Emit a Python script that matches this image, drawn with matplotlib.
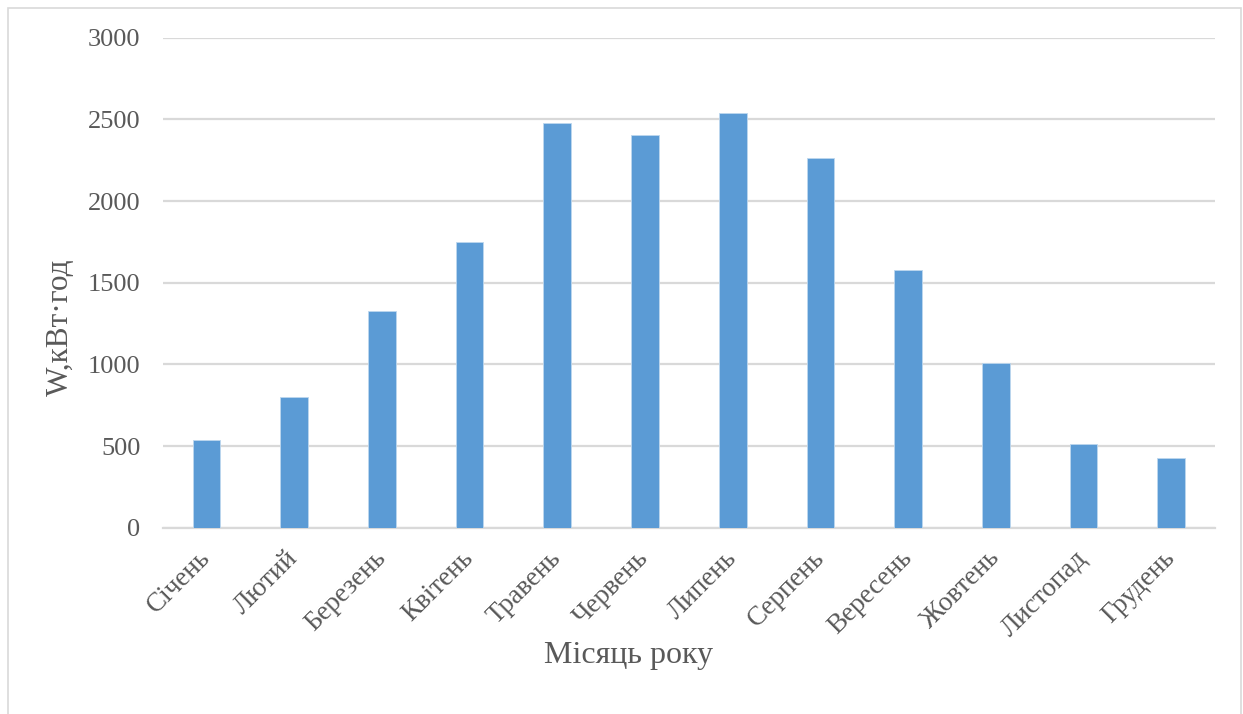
# Monthly energy output bar chart (Excel style)

import matplotlib
matplotlib.use('Agg')
import matplotlib.pyplot as plt
from matplotlib.patches import Rectangle

# Data
months = ['Січень', 'Лютий', 'Березень', 'Квітень', 'Травень', 'Червень',
          'Липень', 'Серпень', 'Вересень', 'Жовтень', 'Листопад', 'Грудень']
energy = [539, 802, 1327, 1747, 2476, 2404, 2541, 2263, 1578, 1008, 514, 425]
y_ticks = [0, 500, 1000, 1500, 2000, 2500, 3000]

text_color = '#595959'
grid_color = '#d9d9d9'
bar_color = '#5b9bd5'

plt.rcParams['font.family'] = ['Liberation Serif', 'DejaVu Serif']

fig = plt.figure(figsize=(12.43, 7.14), dpi=100)
ax = fig.add_axes([0.1309, 0.2609, 0.9775 - 0.1309, 0.9472 - 0.2609])

# outer frame of the chart area
fig.patches.append(Rectangle((8 / 1243, -0.01), 1233 / 1243, 1 - 8 / 714 + 0.01,
                             transform=fig.transFigure, fill=False,
                             edgecolor=grid_color, linewidth=1.2))

x = range(len(months))
ax.bar(x, energy, width=0.316, color=bar_color, edgecolor='#bdd7ee', linewidth=0.6, zorder=3)

ax.set_xlim(-0.5, len(months) - 0.5)
ax.set_ylim(0, 3000)
ax.set_yticks(y_ticks)
ax.set_yticklabels([str(t) for t in y_ticks])
ax.yaxis.grid(True, color=grid_color, linewidth=1.6, zorder=0)
ax.set_axisbelow(True)

for s in ['top', 'right', 'left']:
    ax.spines[s].set_visible(False)
ax.spines['bottom'].set_color(grid_color)
ax.spines['bottom'].set_linewidth(1.6)
ax.spines['bottom'].set_zorder(1)

ax.tick_params(axis='both', length=0, colors=text_color, labelsize=19)
ax.tick_params(axis='y', pad=16)
ax.set_xticks(list(x))
ax.set_xticklabels(months, rotation=45, ha='right', va='center',
                   rotation_mode='anchor', color=text_color, fontsize=19.5)
ax.tick_params(axis='x', pad=19)

fig.text(60 / 1243, 1 - 327 / 714, 'W,кВт·год', rotation=90, ha='center', va='center',
         color=text_color, fontsize=22.5)
fig.text(628 / 1243, 1 - 655 / 714, 'Місяць року', ha='center', va='center',
         color=text_color, fontsize=23)

plt.savefig('out.png', dpi=100)
plt.close()
